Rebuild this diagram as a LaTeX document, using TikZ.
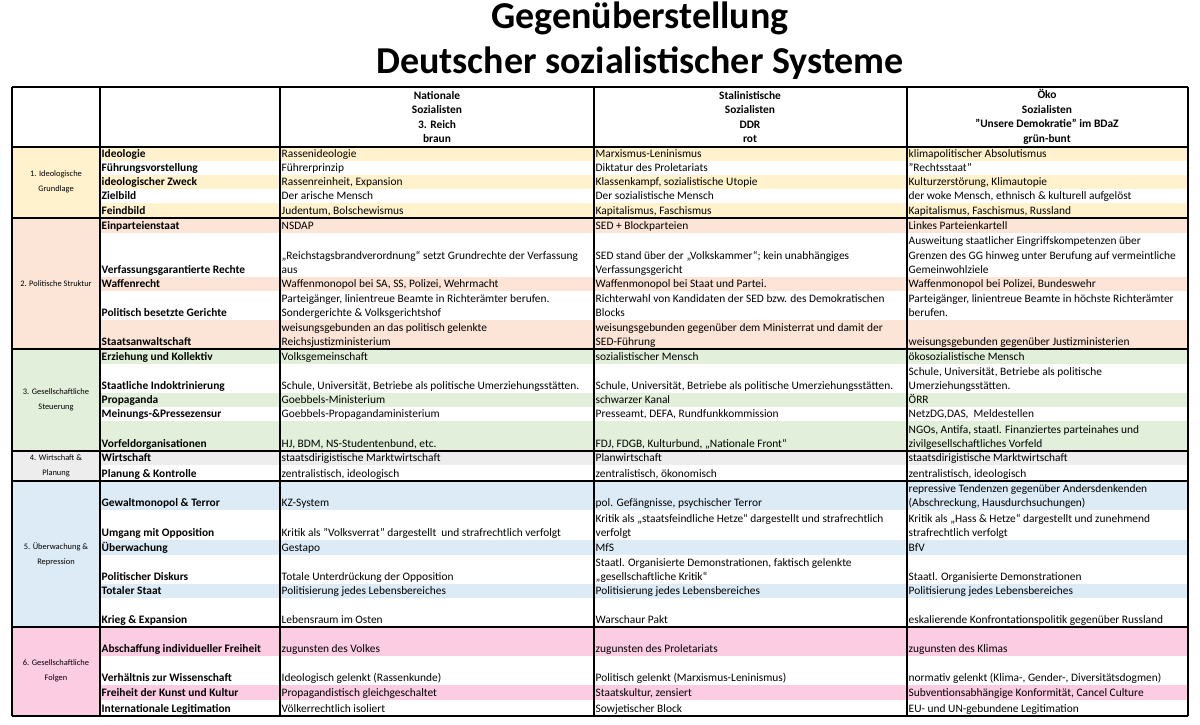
\documentclass[tikz,border=0pt]{standalone}
\usepackage{fontspec}
\setmainfont{Carlito}
\definecolor{cy}{HTML}{FFF2CC}
\definecolor{cp}{HTML}{FCE4D6}
\definecolor{cg}{HTML}{E2EFDA}
\definecolor{ck}{HTML}{EDEDED}
\definecolor{cb}{HTML}{DDEBF7}
\definecolor{cr}{HTML}{FCCCE2}
\tikzset{
 cell/.style={anchor=south west,inner xsep=1.5pt,inner ysep=0pt,align=left,font=\fontsize{11.4}{14.5}\selectfont,execute at end node={\rule[-3.2pt]{0pt}{3.2pt}}},
 lab/.style={cell,font=\fontsize{11.4}{14.5}\selectfont\bfseries},
 grp/.style={align=center,font=\fontsize{8.4}{15}\selectfont},
 hd/.style={align=center,font=\fontsize{11.4}{14.6}\selectfont\bfseries},
 thinl/.style={draw=black!75,line width=0.7pt},
 thickl/.style={draw=black,line width=1.3pt}
}
\newcommand\trow[7]{%
 \fill[#3] (100,#1) rectangle (1188,#2);
 \draw[thinl] (100,#2) -- (1188,#2);
 \node[lab] at (100,#2) {#4};
 \node[cell] at (280,#2) {#5};
 \node[cell] at (594,#2) {#6};
 \node[cell] at (907,#2) {#7};
}
\begin{document}
\begin{tikzpicture}[x=1pt,y=-1pt]
\useasboundingbox (0,0) rectangle (1200,725);
\fill[white] (0,0) rectangle (1200,725);
\node[font=\fontsize{38}{45}\selectfont\bfseries,align=center] (title) at (640,41) {Gegenüberstellung\\Deutscher sozialistischer Systeme};
% group fills
\fill[cy] (12,147) rectangle (100,218);
\fill[cp] (12,218) rectangle (100,349);
\fill[cg] (12,349) rectangle (100,451);
\fill[ck] (12,451) rectangle (100,481);
\fill[cb] (12,481) rectangle (100,627);
\fill[cr] (12,627) rectangle (100,716);
\node[grp] (g1) at (56,182) {1. Ideologische\\Grundlage};
\node[grp] (g2) at (56,284) {2. Politische Struktur};
\node[grp] (g3) at (56,400) {3. Gesellschaftliche\\Steuerung};
\node[grp] (g4) at (56,466) {4. Wirtschaft \&\\Planung};
\node[grp] (g5) at (56,554) {5. Überwachung \&\\Repression};
\node[grp] (g6) at (56,671) {6. Gesellschaftliche\\Folgen};
% header
\node[hd] (h2) at (437,117) {Nationale\\Sozialisten\\3. Reich\\braun};
\node[hd] (h3) at (750,117) {Stalinistische\\Sozialisten\\DDR\\rot};
\node[hd] (h4) at (1047,117) {Öko\\Sozialisten\\"Unsere Demokratie" im BDaZ\\grün-bunt};
% rows
\trow{147}{161}{cy}{Ideologie}{Rassenideologie}{Marxismus-Leninismus}{klimapolitischer Absolutismus}
\trow{161}{175}{white}{Führungsvorstellung}{Führerprinzip}{Diktatur des Proletariats}{"Rechtsstaat"}
\trow{175}{189}{cy}{ideologischer Zweck}{Rassenreinheit, Expansion}{Klassenkampf, sozialistische Utopie}{Kulturzerstörung, Klimautopie}
\trow{189}{203}{white}{Zielbild}{Der arische Mensch}{Der sozialistische Mensch}{der woke Mensch, ethnisch \& kulturell aufgelöst}
\trow{203}{218}{cy}{Feindbild}{Judentum, Bolschewismus}{Kapitalismus, Faschismus}{Kapitalismus, Faschismus, Russland}
\trow{218}{233}{cp}{Einparteienstaat}{NSDAP}{SED + Blockparteien}{Linkes Parteienkartell}
\trow{233}{277}{white}{Verfassungsgarantierte Rechte}{„Reichstagsbrandverordnung“ setzt Grundrechte der Verfassung\\aus}{SED stand über der „Volkskammer“; kein unabhängiges\\Verfassungsgericht}{Ausweitung staatlicher Eingriffskompetenzen über\\Grenzen des GG hinweg unter Berufung auf vermeintliche\\Gemeinwohlziele}
\trow{277}{291}{cp}{Waffenrecht}{Waffenmonopol bei SA, SS, Polizei, Wehrmacht}{Waffenmonopol bei Staat und Partei.}{Waffenmonopol bei Polizei, Bundeswehr}
\trow{291}{320}{white}{Politisch besetzte Gerichte}{Parteigänger, linientreue Beamte in Richterämter berufen.\\Sondergerichte \& Volksgerichtshof}{Richterwahl von Kandidaten der SED bzw. des Demokratischen\\Blocks}{Parteigänger, linientreue Beamte in höchste Richterämter\\berufen.}
\trow{320}{349}{cp}{Staatsanwaltschaft}{weisungsgebunden an das politisch gelenkte\\Reichsjustizministerium}{weisungsgebunden gegenüber dem Ministerrat und damit der\\SED-Führung}{weisungsgebunden gegenüber Justizministerien}
\trow{349}{364}{cg}{Erziehung und Kollektiv}{Volksgemeinschaft}{sozialistischer Mensch}{ökosozialistische Mensch}
\trow{364}{393}{white}{Staatliche Indoktrinierung}{Schule, Universität, Betriebe als politische Umerziehungsstätten.}{Schule, Universität, Betriebe als politische Umerziehungsstätten.}{Schule, Universität, Betriebe als politische\\Umerziehungsstätten.}
\trow{393}{407}{cg}{Propaganda}{Goebbels-Ministerium}{schwarzer Kanal}{ÖRR}
\trow{407}{421}{white}{Meinungs-\&Pressezensur}{Goebbels-Propagandaministerium}{Presseamt, DEFA, Rundfunkkommission}{NetzDG,DAS,\ \ Meldestellen}
\trow{421}{451}{cg}{Vorfeldorganisationen}{HJ, BDM, NS-Studentenbund, etc.}{FDJ, FDGB, Kulturbund, „Nationale Front“}{NGOs, Antifa, staatl. Finanziertes parteinahes und\\zivilgesellschaftliches Vorfeld}
\trow{451}{465}{ck}{Wirtschaft}{staatsdirigistische Marktwirtschaft}{Planwirtschaft}{staatsdirigistische Marktwirtschaft}
\trow{465}{481}{white}{Planung \& Kontrolle}{zentralistisch, ideologisch}{zentralistisch, ökonomisch}{zentralistisch, ideologisch}
\trow{481}{510}{cb}{Gewaltmonopol \& Terror}{KZ-System}{pol. Gefängnisse, psychischer Terror}{repressive Tendenzen gegenüber Andersdenkenden\\(Abschreckung, Hausdurchsuchungen)}
\trow{510}{540}{white}{Umgang mit Opposition}{Kritik als "Volksverrat" dargestellt\ \ und strafrechtlich verfolgt}{Kritik als „staatsfeindliche Hetze“ dargestellt und strafrechtlich\\verfolgt}{Kritik als „Hass \& Hetze“ dargestellt und zunehmend\\strafrechtlich verfolgt}
\trow{540}{555}{cb}{Überwachung}{Gestapo}{MfS}{BfV}
\trow{555}{584}{white}{Politischer Diskurs}{Totale Unterdrückung der Opposition}{Staatl. Organisierte Demonstrationen, faktisch gelenkte\\„gesellschaftliche Kritik“}{Staatl. Organisierte Demonstrationen}
\trow{584}{598}{cb}{Totaler Staat}{Politisierung jedes Lebensbereiches}{Politisierung jedes Lebensbereiches}{Politisierung jedes Lebensbereiches}
\trow{598}{627}{white}{Krieg \& Expansion}{Lebensraum im Osten}{Warschaur Pakt}{eskalierende Konfrontationspolitik gegenüber Russland}
\trow{627}{656}{cr}{Abschaffung individueller Freiheit}{zugunsten des Volkes}{zugunsten des Proletariats}{zugunsten des Klimas}
\trow{656}{685}{white}{Verhältnis zur Wissenschaft}{Ideologisch gelenkt (Rassenkunde)}{Politisch gelenkt (Marxismus-Leninismus)}{normativ gelenkt (Klima-, Gender-, Diversitätsdogmen)}
\trow{685}{700}{cr}{Freiheit der Kunst und Kultur}{Propagandistisch gleichgeschaltet}{Staatskultur, zensiert}{Subventionsabhängige Konformität, Cancel Culture}
\trow{700}{716}{white}{Internationale Legitimation}{Völkerrechtlich isoliert}{Sowjetischer Block}{EU- und UN-gebundene Legitimation}
% thick lines
\foreach \yy in {87,147,218,349,451,481,627,716} \draw[thickl] (12,\yy) -- (1188,\yy);
\foreach \xx in {12,100,280,594,907,1188} \draw[thickl] (\xx,87) -- (\xx,716);
\end{tikzpicture}
\end{document}
